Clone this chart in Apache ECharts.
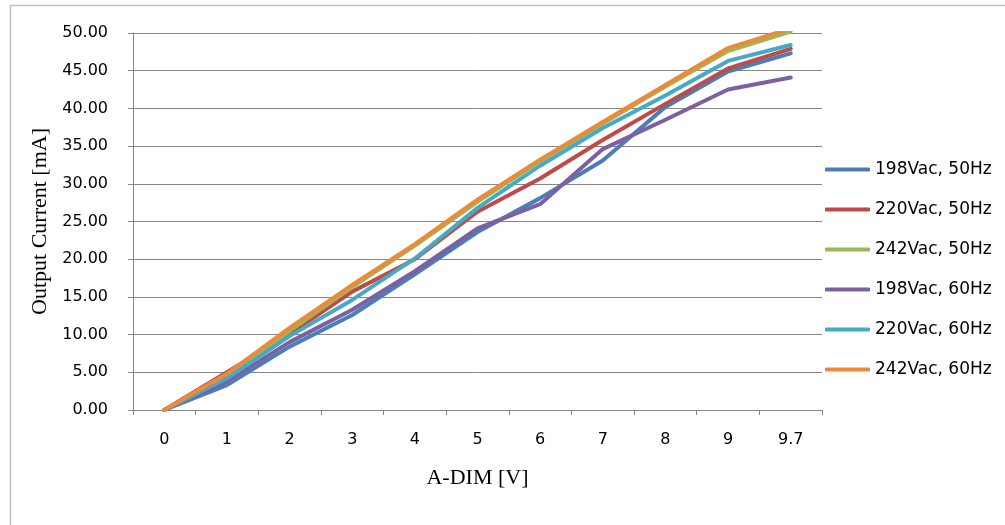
<!DOCTYPE html>
<html>
<head>
<meta charset="utf-8">
<script src="https://cdn.jsdelivr.net/npm/echarts@6/dist/echarts.min.js"></script>
<style>html,body{margin:0;padding:0;background:#fff;}#c{width:1005px;height:525px;}</style>
</head>
<body>
<div id="c"></div>
<script>
var categories = ['0','1','2','3','4','5','6','7','8','9','9.7'];
var seriesNames = ['198Vac, 50Hz','220Vac, 50Hz','242Vac, 50Hz','198Vac, 60Hz','220Vac, 60Hz','242Vac, 60Hz'];
var v198_50 = [0, 3.3, 8.4, 12.6, 18.0, 23.6, 28.1, 33.1, 40.2, 44.9, 47.3];
var v220_50 = [0, 5.0, 10.1, 15.7, 20.0, 26.3, 30.7, 35.8, 40.6, 45.3, 47.9];
var v242_50 = [0, 4.6, 10.5, 16.3, 21.8, 27.6, 33.0, 38.0, 42.9, 47.6, 50.2];
var v198_60 = [0, 3.8, 9.0, 13.3, 18.4, 24.1, 27.3, 34.6, 38.5, 42.5, 44.1];
var v220_60 = [0, 4.2, 9.8, 14.6, 20.1, 26.8, 32.4, 37.4, 41.7, 46.3, 48.4];
var v242_60 = [0, 4.8, 10.9, 16.6, 22.0, 27.9, 33.2, 38.2, 43.1, 48.0, 50.6];
var colors = ['#4A7EBB','#BE4B48','#98B954','#7D60A0','#46AAC5','#EB8A3A'];
var allData = [v198_50, v220_50, v242_50, v198_60, v220_60, v242_60];

var chart = echarts.init(document.getElementById('c'));
var series = allData.map(function(d, i){
  return {
    name: seriesNames[i], type: 'line', data: d, symbol: 'none', clip: true,
    lineStyle: {width: 4, color: colors[i], cap: 'round', join: 'round'}, itemStyle: {color: colors[i]}
  };
});
chart.setOption({
  animation: false,
  color: colors,
  graphic: [{
    type: 'rect', shape: {x: 10.5, y: 5.5, width: 1000, height: 530},
    style: {fill: 'none', stroke: '#BFBFBF', lineWidth: 1.5}, silent: true
  }],
  grid: {left: 133, right: 183, top: 33, bottom: 115},
  legend: {
    orient: 'vertical', left: 820, top: 156,
    icon: 'roundRect', itemWidth: 45, itemHeight: 4, itemGap: 23,
    textStyle: {fontFamily: 'DejaVu Sans', fontSize: 17, color: '#000', lineHeight: 14},
    data: seriesNames
  },
  xAxis: {
    type: 'category', data: categories, boundaryGap: true,
    name: 'A-DIM [V]', nameLocation: 'middle', nameGap: 57,
    nameTextStyle: {fontFamily: 'Liberation Serif', fontSize: 22, color: '#000'},
    axisLine: {lineStyle: {color: '#868686', width: 1}},
    axisTick: {show: true, length: 5, lineStyle: {color: '#868686'}},
    axisLabel: {margin: 22, fontFamily: 'DejaVu Sans', fontSize: 16, color: '#000'}
  },
  yAxis: {
    type: 'value', min: 0, max: 50, interval: 5,
    name: 'Output Current [mA]', nameLocation: 'middle', nameGap: 80, nameRotate: 90,
    nameTextStyle: {fontFamily: 'Liberation Serif', fontSize: 22, color: '#000'},
    axisLine: {show: true, lineStyle: {color: '#868686', width: 1}},
    axisTick: {show: true, length: 5, lineStyle: {color: '#868686'}},
    splitLine: {show: true, lineStyle: {color: '#868686', width: 1}},
    axisLabel: {margin: 25, fontFamily: 'DejaVu Sans', fontSize: 16, color: '#000',
      formatter: function(v){ return v.toFixed(2); }}
  },
  series: series
});
</script>
</body>
</html>
